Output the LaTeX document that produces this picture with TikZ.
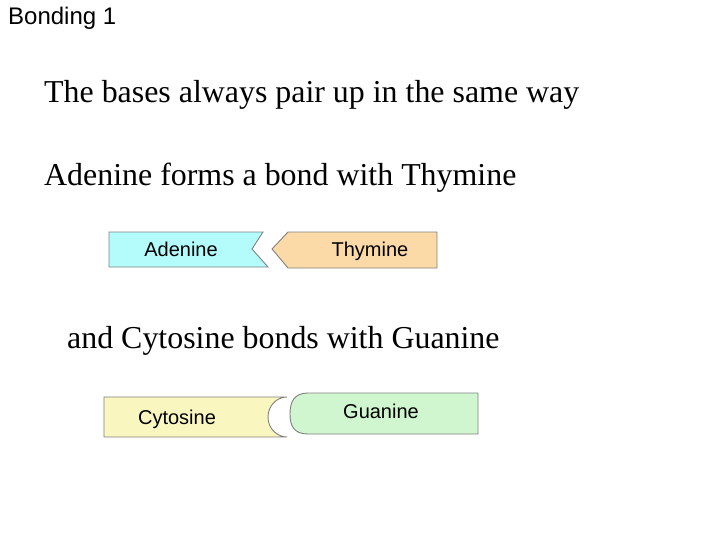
\documentclass[tikz,border=0pt]{standalone}
\usepackage{fontspec}
\setmainfont{Liberation Serif}
\newfontfamily\arialf{Liberation Sans}
\definecolor{adeninec}{HTML}{B4FCFC}
\definecolor{thyminec}{HTML}{FBDAA8}
\definecolor{cytosinec}{HTML}{FAF6C0}
\definecolor{guaninec}{HTML}{CFF6CF}
\definecolor{edgec}{HTML}{808080}
\begin{document}
\begin{tikzpicture}[x=1pt,y=-1pt,
  base/.style={draw=edgec,line width=0.9pt},
  lbl/.style={font=\arialf\fontsize{20}{23}\selectfont,inner sep=0pt,anchor=base},
  big/.style={font=\fontsize{31.9}{36}\selectfont,inner sep=0pt,anchor=base west}]
\useasboundingbox (0,0) rectangle (720,540);
\node[font=\arialf\fontsize{24}{28}\selectfont,inner sep=0pt,anchor=base west] (title) at (8,25) {Bonding 1};
\node[big] (l1) at (44,103) {The bases always pair up in the same way};
\node[big] (l2) at (44,186) {Adenine forms a bond with Thymine};
\node[big] (l3) at (67,348) {and Cytosine bonds with Guanine};
% Adenine
\path[base,fill=adeninec] (109,232) -- (263,232) -- (252,249) -- (268,267) -- (109,267) -- cycle;
% Thymine
\path[base,fill=thyminec] (272,249) -- (288,232) -- (437,232) -- (437,268) -- (288,268) -- cycle;
\node[lbl] (ade) at (181,256) {Adenine};
\node[lbl] (thy) at (370,256) {Thymine};
% Cytosine
\path[base,fill=cytosinec] (104,397) -- (287,397) arc[start angle=90,end angle=270,x radius=19,y radius=-20] -- (104,437) -- cycle;
% Guanine
\path[base,fill=guaninec] (308,393) -- (478,393) -- (478,434) -- (308,434) .. controls (294,434) and (290,426) .. (290,414) .. controls (290,402) and (294,393) .. (308,393) -- cycle;
\node[lbl] (cyt) at (177,424) {Cytosine};
\node[lbl] (gua) at (381,418) {Guanine};
\end{tikzpicture}
\end{document}
